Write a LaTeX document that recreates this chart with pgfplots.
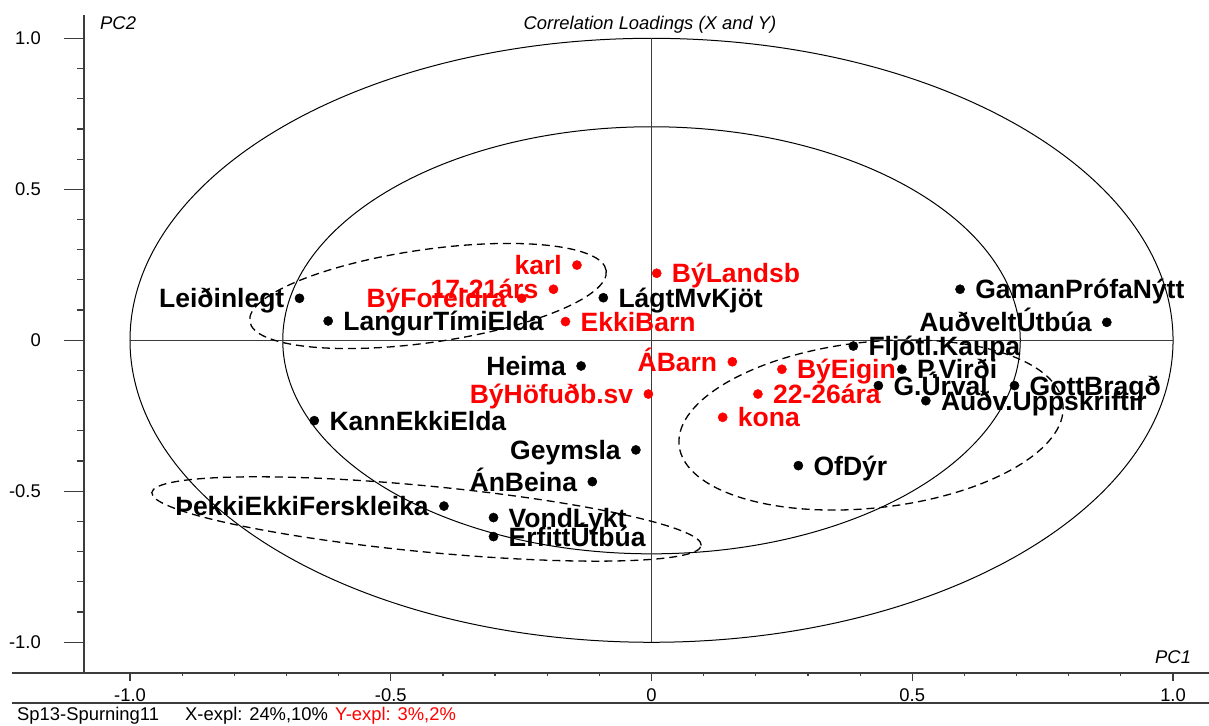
\documentclass[border=0pt]{standalone}
\usepackage{fontspec}
\setmainfont{Liberation Sans}
\usepackage{pgfplots}
\usepackage{pgfplotstable}
\pgfplotsset{compat=1.18}
\definecolor{lblred}{RGB}{255,0,0}
\definecolor{axgray}{RGB}{60,60,60}

\newcommand{\smallfont}{\fontsize{18.4}{22}\selectfont}
\newcommand{\lblfont}{\fontsize{26.5}{31}\selectfont\bfseries}

\pgfplotstableread{
x y label
-0.620 0.064 LangurTímiElda
-0.0924 0.141 LágtMvKjöt
0.5916 0.169 GamanPrófaNýtt
0.387 -0.019 Fljótl.Kaupa
0.480 -0.096 P.Virði
0.435 -0.150 G.Úrval
0.696 -0.150 GottBragð
0.526 -0.200 Auðv.Uppskriftir
0.2816 -0.415 OfDýr
-0.6466 -0.266 KannEkkiElda
-0.303 -0.587 VondLykt
-0.303 -0.650 ErfittÚtbúa
}\blackright

\pgfplotstableread{
x y label
-0.675 0.139 Leiðinlegt
0.873 0.0596 AuðveltÚtbúa
-0.135 -0.085 Heima
-0.030 -0.363 Geymsla
-0.1135 -0.468 ÁnBeina
-0.398 -0.549 ÞekkiEkkiFerskleika
}\blackleft

\pgfplotstableread{
x y label
-0.143 0.249 karl
-0.188 0.169 17-21árs
-0.249 0.139 BýForeldra
0.155 -0.071 ÁBarn
-0.006 -0.178 BýHöfuðb.sv
}\redleft

\pgfplotstableread{
x y label
0.010 0.222 BýLandsb
-0.165 0.062 EkkiBarn
0.250 -0.096 BýEigin
0.204 -0.178 22-26ára
0.1365 -0.255 kona
}\redright

\pgfplotsset{
  base/.style={
    scale only axis, width=1125pt, height=658pt,
    at={(84pt,52pt)}, anchor=south west,
    xmin=-1.0882, xmax=1.0690, ymin=-1.1017, ymax=1.0772,
    clip=false,
    axis line style={-, line width=1.6pt, axgray},
    every outer x axis line/.append style={-},
    every outer y axis line/.append style={-},
    tick align=outside,
    tick style={line width=1.2pt, axgray},
  },
  lbls/.style={
    only marks, mark=*, mark size=4.6pt,
    point meta=explicit symbolic,
    nodes near coords,
    every node near coord/.append style={font=\lblfont, inner sep=0pt,
      text height=19pt, text depth=0pt, #1},
  },
}

\begin{document}
\begin{tikzpicture}
\useasboundingbox (0,0) rectangle (1209pt,725pt);

% x axis
\begin{axis}[base,
  axis x line*=bottom, axis y line=none,
  xtick={-1,-0.5,0,0.5,1},
  xticklabels={-1.0,-0.5,0,0.5,1.0},
  minor x tick num=4,
  ytick=\empty,
  major tick length=8pt, minor tick length=3pt,
  xticklabel style={font=\smallfont, inner sep=0pt, anchor=base, yshift=-20pt},
]
\end{axis}

% y axis and data
\begin{axis}[base,
  axis y line*=left, axis x line=none,
  ytick={-1,-0.5,0,0.5,1},
  yticklabels={-1.0,-0.5,0,0.5,1.0},
  minor y tick num=4,
  xtick=\empty,
  major tick length=20pt, minor tick length=7pt,
  yticklabel style={font=\smallfont, inner sep=0pt, anchor=east, xshift=-23pt},
]
\draw[black, line width=1pt] (axis cs:0,0) ellipse [x radius=1, y radius=1];
\draw[black, line width=1pt] (axis cs:0,0) ellipse [x radius=0.7071, y radius=0.7071];
\draw[axgray, line width=1.2pt] (axis cs:-1,0) -- (axis cs:1,0);
\draw[axgray, line width=1.2pt] (axis cs:0,-1) -- (axis cs:0,1);

\draw[black, line width=1.3pt, dash pattern=on 8pt off 5pt,
  rotate around={8.1:(axis cs:-0.4286,0.1467)}]
  (axis cs:-0.4286,0.1467) ellipse [x radius=180pt, y radius=46.5pt];
\draw[black, line width=1.3pt, dash pattern=on 8pt off 5pt,
  rotate around={6.1:(axis cs:0.4209,-0.2805)}]
  (axis cs:0.4209,-0.2805) ellipse [x radius=193pt, y radius=83pt];
\draw[black, line width=1.3pt, dash pattern=on 8pt off 5pt,
  rotate around={-5.5:(axis cs:-0.4314,-0.5917)}]
  (axis cs:-0.4314,-0.5917) ellipse [x radius=276pt, y radius=33pt];

\addplot[lbls={anchor=east, xshift=-15pt, text=black}, black] table[x=x, y=y, meta=label] {\blackleft};
\addplot[lbls={anchor=west, xshift=15pt, text=black}, black] table[x=x, y=y, meta=label] {\blackright};
\addplot[lbls={anchor=east, xshift=-15pt, text=lblred}, lblred] table[x=x, y=y, meta=label] {\redleft};
\addplot[lbls={anchor=west, xshift=15pt, text=lblred}, lblred] table[x=x, y=y, meta=label] {\redright};
\end{axis}

\draw[axgray, line width=1.6pt] (12pt,52pt) -- (84pt,52pt);
\draw[axgray, line width=1.6pt] (12pt,22pt) -- (1209pt,22pt);

\node[anchor=base west, inner sep=0pt, font=\smallfont\itshape] at (100pt,695pt) {PC2};
\node[anchor=base, inner sep=0pt, font=\smallfont\itshape] at (650pt,695.7pt) {Correlation Loadings (X and Y)};
\node[anchor=base west, inner sep=0pt, font=\smallfont\itshape] at (1155pt,61pt) {PC1};

\node[anchor=base west, inner sep=0pt, font=\smallfont] at (17pt,5pt) {Sp13-Spurning11};
\node[anchor=base west, inner sep=0pt, font=\smallfont] at (185pt,5pt) {X-expl: 24\%,10\%};
\node[anchor=base west, inner sep=0pt, font=\smallfont, text=lblred] at (335pt,5pt) {Y-expl: 3\%,2\%};
\end{tikzpicture}
\end{document}
